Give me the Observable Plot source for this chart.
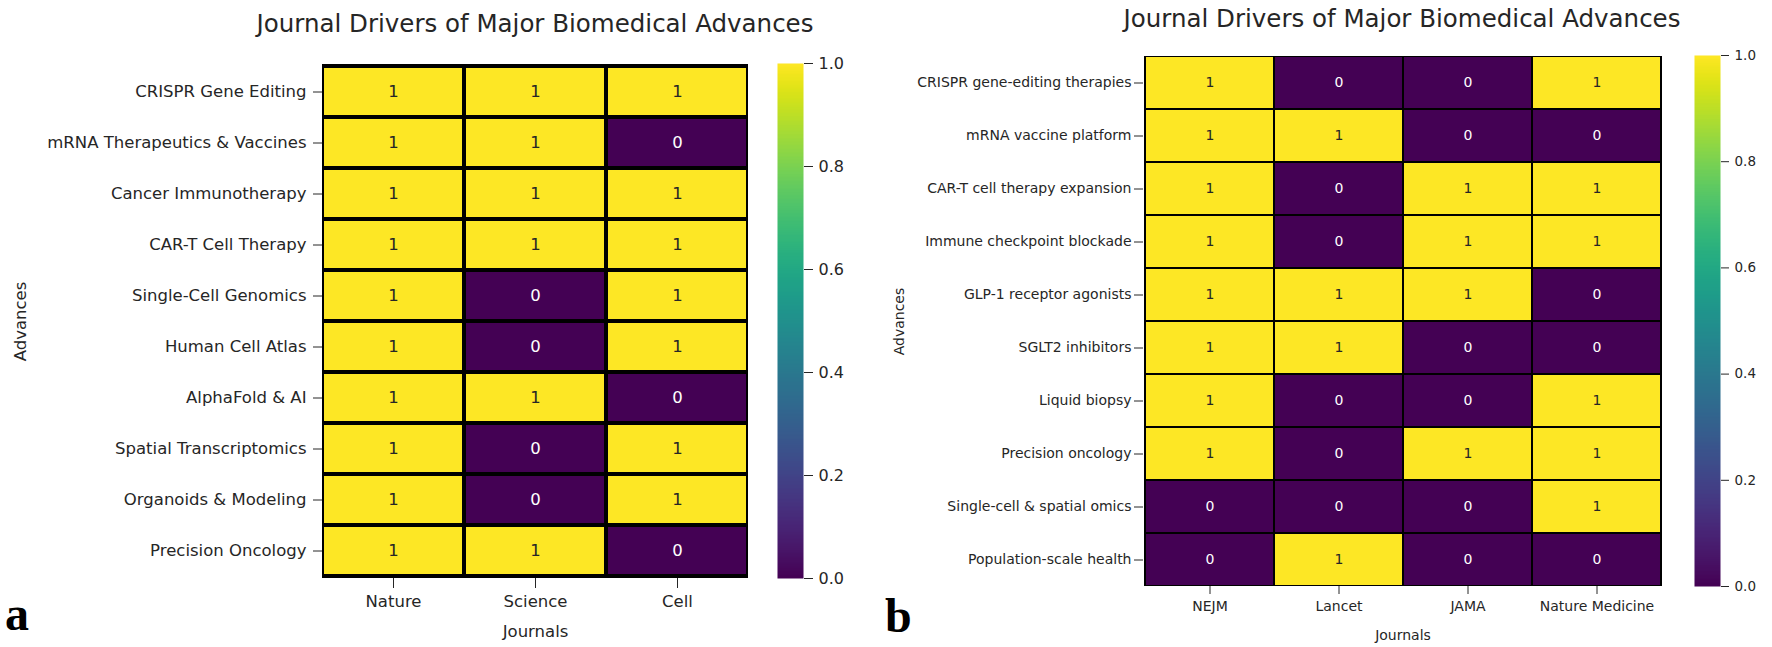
<!DOCTYPE html>
<html>
<head>
<meta charset="utf-8">
<script src="https://cdn.jsdelivr.net/npm/d3@7"></script>
<script src="https://cdn.jsdelivr.net/npm/@observablehq/plot@0.6"></script>
<style>
  html, body { margin: 0; padding: 0; background: white; }
  #root { position: relative; width: 1772px; height: 647px; background: white; overflow: hidden; }
  #root > * { position: absolute; }
  .title { font-family: "DejaVu Sans", sans-serif; font-size: 24.5px; line-height: 1; color: #262626; white-space: nowrap; transform: translateX(-50%); }
  .panel { font-family: "Liberation Serif", "Times New Roman", serif; font-weight: bold; font-size: 48px; line-height: 1; color: #000; }
</style>
</head>
<body>
<div id="root"></div>
<script>
// ---- Data ----
const journalsA = ["Nature", "Science", "Cell"];
const advancesA = [
  "CRISPR Gene Editing", "mRNA Therapeutics & Vaccines", "Cancer Immunotherapy",
  "CAR-T Cell Therapy", "Single-Cell Genomics", "Human Cell Atlas",
  "AlphaFold & AI", "Spatial Transcriptomics", "Organoids & Modeling", "Precision Oncology"
];
const valuesA = [
  [1, 1, 1],
  [1, 1, 0],
  [1, 1, 1],
  [1, 1, 1],
  [1, 0, 1],
  [1, 0, 1],
  [1, 1, 0],
  [1, 0, 1],
  [1, 0, 1],
  [1, 1, 0]
];

const journalsB = ["NEJM", "Lancet", "JAMA", "Nature Medicine"];
const advancesB = [
  "CRISPR gene-editing therapies", "mRNA vaccine platform", "CAR-T cell therapy expansion",
  "Immune checkpoint blockade", "GLP-1 receptor agonists", "SGLT2 inhibitors",
  "Liquid biopsy", "Precision oncology", "Single-cell & spatial omics", "Population-scale health"
];
const valuesB = [
  [1, 0, 0, 1],
  [1, 1, 0, 0],
  [1, 0, 1, 1],
  [1, 0, 1, 1],
  [1, 1, 1, 0],
  [1, 1, 0, 0],
  [1, 0, 0, 1],
  [1, 0, 1, 1],
  [0, 0, 0, 1],
  [0, 1, 0, 0]
];

const colorbarTicks = [0, 0.2, 0.4, 0.6, 0.8, 1.0];
const titleText = "Journal Drivers of Major Biomedical Advances";
const xLabel = "Journals";
const yLabel = "Advances";

// ---- Helpers ----
const root = document.getElementById("root");
const H = 647;

function place(el, left, top) {
  el.style.left = left + "px";
  el.style.top = top + "px";
  root.appendChild(el);
}

function heat(journals, advances, values, o) {
  const data = advances.flatMap((a, i) =>
    journals.map((j, k) => ({advance: a, journal: j, value: values[i][k]})));
  return Plot.plot({
    width: o.width, height: H,
    marginLeft: o.ml, marginRight: o.mr, marginTop: o.mt, marginBottom: o.mb,
    style: {fontFamily: "DejaVu Sans, sans-serif", fontSize: o.fs + "px", color: "#262626", background: "transparent", overflow: "visible"},
    x: {domain: journals, padding: 0, label: null},
    y: {domain: advances, padding: 0, label: null},
    color: {type: "linear", scheme: "viridis", domain: [0, 1]},
    marks: [
      Plot.cell(data, {x: "journal", y: "advance", fill: "value", stroke: "black", strokeWidth: o.sw, inset: 0, clip: true}),
      Plot.text(data, {filter: d => d.value === 1, x: "journal", y: "advance", text: d => String(d.value), fill: "#262626", fontSize: o.fs}),
      Plot.text(data, {filter: d => d.value === 0, x: "journal", y: "advance", text: d => String(d.value), fill: "white", fontSize: o.fs}),
      Plot.axisX({label: xLabel, labelAnchor: "center", labelOffset: o.xlo, tickSize: o.xts, tickPadding: o.xtp, fontSize: o.fs}),
      Plot.axisY({label: yLabel, labelAnchor: "center", labelOffset: o.ylo, tickSize: o.yts, tickPadding: o.ytp, fontSize: o.fs})
    ]
  });
}

function colorbar(o) {
  return Plot.plot({
    width: o.width, height: H,
    marginLeft: o.ml, marginRight: o.mr, marginTop: o.mt, marginBottom: o.mb,
    style: {fontFamily: "DejaVu Sans, sans-serif", fontSize: o.fs + "px", color: "#262626", background: "transparent", overflow: "visible"},
    x: {domain: [0, 1], axis: null},
    y: {domain: [0, 1], axis: null},
    color: {type: "linear", scheme: "viridis", domain: [0, 1]},
    marks: [
      Plot.raster({x1: 0, x2: 1, y1: 0, y2: 1, fill: (x, y) => y, width: 2, height: 400}),
      Plot.axisY({anchor: "right", ticks: colorbarTicks, tickFormat: d3.format(".1f"), tickSize: o.ts, tickPadding: o.tp, fontSize: o.fs, label: null})
    ]
  });
}

function textDiv(cls, txt) {
  const d = document.createElement("div");
  d.className = cls;
  d.textContent = txt;
  return d;
}

// ---- Panel a ----
place(heat(journalsA, advancesA, valuesA, {
  width: 760, ml: 322, mr: 12, mt: 64, mb: 69, fs: 16.5, sw: 4,
  xlo: 58, xts: 10, xtp: 7, ylo: 308, yts: 9, ytp: 7
}), 0, 0);
place(colorbar({width: 110, ml: 17, mr: 67, mt: 63, mb: 69, fs: 16, ts: 9, tp: 6}), 760, 0);

// ---- Panel b ----
place(heat(journalsB, advancesB, valuesB, {
  width: 800, ml: 263, mr: 18, mt: 56, mb: 61, fs: 14, sw: 2,
  xlo: 53, xts: 8, xtp: 7, ylo: 249, yts: 9, ytp: 3
}), 880, 0);
place(colorbar({width: 92, ml: 14, mr: 52, mt: 55, mb: 61, fs: 13.5, ts: 8, tp: 6}), 1680, 0);

// ---- Titles and panel letters ----
place(textDiv("title", titleText), 535, 12);
place(textDiv("title", titleText), 1402, 7);
place(textDiv("panel", "a"), 5, 590);
place(textDiv("panel", "b"), 885, 592);
</script>
</body>
</html>
